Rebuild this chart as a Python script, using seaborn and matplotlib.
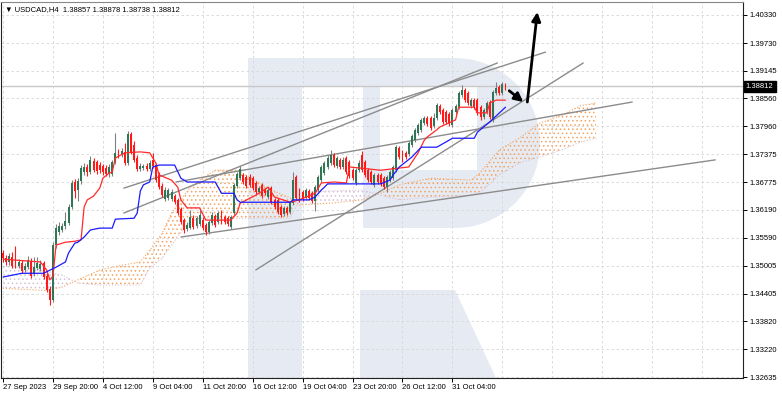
import numpy as np
import pandas as pd
import matplotlib
matplotlib.use("Agg")
import matplotlib.pyplot as plt
import matplotlib.transforms as mtransforms
import seaborn as sns
from matplotlib.patches import Rectangle, Polygon

sns.set_theme(style="white")
plt.rcParams['font.family'] = ['Liberation Sans', 'DejaVu Sans']
plt.rcParams['hatch.linewidth'] = 0.6

# ---------------- data (USDCAD H4) ----------------
opens = [1.3527, 1.3516, 1.3508, 1.3518, 1.3529, 1.3499, 1.3506, 1.3491, 1.3497, 1.3510,
         1.3482, 1.3495, 1.3493, 1.3506, 1.3478, 1.3450, 1.3427, 1.3544, 1.3572, 1.3576,
         1.3584, 1.3591, 1.3625, 1.3678, 1.3661, 1.3680, 1.3699, 1.3710, 1.3699, 1.3723,
         1.3720, 1.3714, 1.3712, 1.3708, 1.3695, 1.3695, 1.3720, 1.3742, 1.3735, 1.3742,
         1.3718, 1.3780, 1.3757, 1.3729, 1.3705, 1.3708, 1.3712, 1.3705, 1.3725, 1.3714,
         1.3693, 1.3669, 1.3642, 1.3644, 1.3642, 1.3648, 1.3640, 1.3620, 1.3597, 1.3578,
         1.3580, 1.3601, 1.3584, 1.3589, 1.3597, 1.3587, 1.3572, 1.3591, 1.3606, 1.3593,
         1.3612, 1.3603, 1.3601, 1.3582, 1.3612, 1.3669, 1.3686, 1.3693, 1.3688, 1.3688,
         1.3686, 1.3676, 1.3657, 1.3672, 1.3661, 1.3646, 1.3665, 1.3640, 1.3640, 1.3625,
         1.3610, 1.3623, 1.3614, 1.3633, 1.3688, 1.3661, 1.3657, 1.3644, 1.3659, 1.3654,
         1.3637, 1.3661, 1.3682, 1.3697, 1.3710, 1.3718, 1.3735, 1.3712, 1.3725, 1.3710,
         1.3729, 1.3720, 1.3703, 1.3676, 1.3703, 1.3735, 1.3720, 1.3703, 1.3699, 1.3672,
         1.3693, 1.3693, 1.3686, 1.3667, 1.3682, 1.3686, 1.3703, 1.3750, 1.3742, 1.3740,
         1.3737, 1.3757, 1.3767, 1.3782, 1.3789, 1.3803, 1.3814, 1.3814, 1.3797, 1.3814,
         1.3840, 1.3831, 1.3827, 1.3823, 1.3799, 1.3827, 1.3837, 1.3863, 1.3874, 1.3867,
         1.3840, 1.3852, 1.3852, 1.3837, 1.3816, 1.3827, 1.3848, 1.3810, 1.3867, 1.3880,
         1.3867, 1.38857]
closes = [1.3516, 1.3508, 1.3521, 1.3499, 1.3499, 1.3508, 1.3489, 1.3499, 1.3512, 1.3478,
          1.3497, 1.3506, 1.3504, 1.3476, 1.3448, 1.3427, 1.3544, 1.3580, 1.3584, 1.3584,
          1.3595, 1.3625, 1.3676, 1.3659, 1.3680, 1.3708, 1.3710, 1.3699, 1.3725, 1.3703,
          1.3701, 1.3703, 1.3699, 1.3695, 1.3710, 1.3720, 1.3740, 1.3733, 1.3744, 1.3718,
          1.3780, 1.3742, 1.3725, 1.3705, 1.3712, 1.3712, 1.3705, 1.3718, 1.3712, 1.3682,
          1.3667, 1.3650, 1.3661, 1.3661, 1.3657, 1.3635, 1.3612, 1.3593, 1.3576, 1.3587,
          1.3603, 1.3582, 1.3601, 1.3608, 1.3580, 1.3572, 1.3593, 1.3608, 1.3587, 1.3612,
          1.3593, 1.3593, 1.3589, 1.3603, 1.3672, 1.3695, 1.3705, 1.3678, 1.3669, 1.3672,
          1.3665, 1.3657, 1.3665, 1.3648, 1.3654, 1.3661, 1.3635, 1.3625, 1.3614, 1.3608,
          1.3623, 1.3612, 1.3633, 1.3682, 1.3644, 1.3640, 1.3642, 1.3661, 1.3644, 1.3637,
          1.3667, 1.3688, 1.3710, 1.3718, 1.3729, 1.3735, 1.3714, 1.3729, 1.3710, 1.3725,
          1.3699, 1.3691, 1.3686, 1.3703, 1.3718, 1.3703, 1.3693, 1.3682, 1.3678, 1.3693,
          1.3678, 1.3674, 1.3667, 1.3688, 1.3699, 1.3710, 1.3752, 1.3731, 1.3725, 1.3731,
          1.3761, 1.3776, 1.3789, 1.3799, 1.3810, 1.3814, 1.3801, 1.3793, 1.3814, 1.3842,
          1.3827, 1.3806, 1.3806, 1.3801, 1.3831, 1.3840, 1.3867, 1.3874, 1.3852, 1.3846,
          1.3852, 1.3837, 1.3825, 1.3816, 1.3831, 1.3846, 1.3816, 1.3869, 1.3878, 1.3867,
          1.3886, 1.38812]
highs = [1.3533, 1.3523, 1.3527, 1.3529, 1.3542, 1.3514, 1.3512, 1.3506, 1.3521, 1.3516,
         1.3518, 1.3518, 1.3512, 1.3510, 1.3484, 1.3457, 1.3550, 1.3589, 1.3593, 1.3591,
         1.3614, 1.3631, 1.3682, 1.3684, 1.3686, 1.3714, 1.3718, 1.3716, 1.3733, 1.3729,
         1.3725, 1.3720, 1.3716, 1.3714, 1.3716, 1.3725, 1.3782, 1.3748, 1.3750, 1.3761,
         1.3786, 1.3784, 1.3765, 1.3735, 1.3718, 1.3716, 1.3718, 1.3725, 1.3740, 1.3718,
         1.3699, 1.3676, 1.3667, 1.3665, 1.3663, 1.3652, 1.3644, 1.3625, 1.3601, 1.3593,
         1.3618, 1.3608, 1.3606, 1.3618, 1.3603, 1.3591, 1.3597, 1.3614, 1.3610, 1.3616,
         1.3618, 1.3608, 1.3606, 1.3608, 1.3676, 1.3699, 1.3712, 1.3697, 1.3693, 1.3695,
         1.3691, 1.3680, 1.3669, 1.3676, 1.3665, 1.3665, 1.3669, 1.3644, 1.3644, 1.3629,
         1.3627, 1.3627, 1.3637, 1.3699, 1.3693, 1.3665, 1.3661, 1.3665, 1.3663, 1.3659,
         1.3672, 1.3693, 1.3714, 1.3723, 1.3735, 1.3746, 1.3740, 1.3733, 1.3729, 1.3731,
         1.3733, 1.3725, 1.3708, 1.3708, 1.3725, 1.3744, 1.3725, 1.3708, 1.3703, 1.3697,
         1.3697, 1.3697, 1.3691, 1.3693, 1.3703, 1.3714, 1.3757, 1.3754, 1.3746, 1.3744,
         1.3765, 1.3780, 1.3793, 1.3803, 1.3814, 1.3818, 1.3818, 1.3818, 1.3825, 1.3846,
         1.3844, 1.3835, 1.3831, 1.3827, 1.3835, 1.3844, 1.3872, 1.3884, 1.3878, 1.3872,
         1.3857, 1.3857, 1.3857, 1.3842, 1.3835, 1.3850, 1.3852, 1.3874, 1.3891, 1.3884,
         1.3891, 1.38878]
lows = [1.3508, 1.3501, 1.3501, 1.3495, 1.3495, 1.3495, 1.3484, 1.3486, 1.3493, 1.3474,
        1.3478, 1.3491, 1.3489, 1.3472, 1.3444, 1.3416, 1.3423, 1.3538, 1.3565, 1.3572,
        1.3578, 1.3587, 1.3620, 1.3644, 1.3637, 1.3674, 1.3693, 1.3691, 1.3695, 1.3699,
        1.3695, 1.3697, 1.3693, 1.3691, 1.3688, 1.3691, 1.3716, 1.3729, 1.3731, 1.3714,
        1.3714, 1.3737, 1.3720, 1.3701, 1.3701, 1.3703, 1.3701, 1.3701, 1.3708, 1.3678,
        1.3663, 1.3646, 1.3637, 1.3640, 1.3637, 1.3631, 1.3608, 1.3589, 1.3569, 1.3574,
        1.3578, 1.3578, 1.3580, 1.3584, 1.3576, 1.3565, 1.3567, 1.3587, 1.3582, 1.3589,
        1.3589, 1.3589, 1.3584, 1.3578, 1.3608, 1.3665, 1.3682, 1.3674, 1.3665, 1.3667,
        1.3661, 1.3652, 1.3652, 1.3644, 1.3650, 1.3642, 1.3631, 1.3620, 1.3610, 1.3603,
        1.3606, 1.3608, 1.3610, 1.3629, 1.3640, 1.3635, 1.3637, 1.3640, 1.3640, 1.3633,
        1.3616, 1.3657, 1.3678, 1.3693, 1.3705, 1.3714, 1.3710, 1.3708, 1.3705, 1.3705,
        1.3695, 1.3686, 1.3682, 1.3672, 1.3699, 1.3699, 1.3688, 1.3678, 1.3674, 1.3667,
        1.3674, 1.3669, 1.3663, 1.3657, 1.3678, 1.3682, 1.3699, 1.3727, 1.3720, 1.3727,
        1.3733, 1.3752, 1.3763, 1.3778, 1.3784, 1.3799, 1.3797, 1.3789, 1.3793, 1.3810,
        1.3823, 1.3801, 1.3801, 1.3797, 1.3795, 1.3823, 1.3833, 1.3859, 1.3848, 1.3842,
        1.3835, 1.3833, 1.3820, 1.3810, 1.3812, 1.3823, 1.3812, 1.3806, 1.3863, 1.3863,
        1.3863, 1.38738]

# Ichimoku Tenkan-sen (red) read at bar indices
tenkan_bars = [0, 12, 14, 15, 16, 17, 19, 20, 23, 25, 26, 27, 29, 31, 32, 34, 35, 36, 39, 44,
               47, 49, 50, 54, 56, 57, 59, 63, 65, 73, 75, 76, 81, 85, 87, 92, 95, 100, 102, 106,
               110, 111, 121, 130, 133, 135, 136, 139, 140, 145, 146, 151, 152, 155, 156, 158, 161]
tenkan_vals = [1.3514, 1.3508, 1.3491, 1.3470, 1.3478, 1.3544, 1.3548, 1.3550, 1.3552, 1.3555,
               1.3625, 1.3640, 1.3648, 1.3665, 1.3686, 1.3697, 1.3699, 1.3729, 1.3740, 1.3742,
               1.3740, 1.3718, 1.3693, 1.3682, 1.3667, 1.3640, 1.3623, 1.3623, 1.3597, 1.3597,
               1.3612, 1.3633, 1.3650, 1.3667, 1.3646, 1.3635, 1.3640, 1.3654, 1.3676, 1.3678,
               1.3676, 1.3710, 1.3703, 1.3710, 1.3740, 1.3767, 1.3774, 1.3789, 1.3795, 1.3810,
               1.3837, 1.3837, 1.3825, 1.3825, 1.3846, 1.3852, 1.3852]
# Kijun-sen (blue)
kijun_bars = [0, 6, 13, 17, 20, 21, 23, 24, 26, 28, 31, 35, 36, 42, 43, 44, 45, 47, 48, 50,
              55, 57, 59, 68, 70, 74, 75, 76, 92, 93, 98, 100, 102, 103, 104, 121, 124, 125, 127,
              131, 134, 139, 144, 151, 152, 156, 161]
kijun_vals = [1.3476, 1.3484, 1.3484, 1.3497, 1.3508, 1.3527, 1.3548, 1.3550, 1.3561, 1.3576,
              1.3580, 1.3580, 1.3599, 1.3601, 1.3612, 1.3659, 1.3672, 1.3678, 1.3710, 1.3714,
              1.3714, 1.3686, 1.3678, 1.3678, 1.3654, 1.3654, 1.3640, 1.3635, 1.3635, 1.3640,
              1.3640, 1.3646, 1.3661, 1.3667, 1.3674, 1.3674, 1.3682, 1.3693, 1.3710, 1.3731,
              1.3752, 1.3752, 1.3771, 1.3771, 1.3784, 1.3806, 1.3837]
# Cloud: Senkou span A / B
cloud_bars = [0, 6, 12, 15, 19, 24, 31, 38, 44, 47, 51, 54, 57, 60, 63, 68, 75, 79, 86, 92,
              95, 99, 105, 115, 121, 127, 137, 150, 153, 159, 166, 172, 179, 185, 190]
span_a = [1.3452, 1.3450, 1.3448, 1.3448, 1.3455, 1.3470, 1.3491, 1.3501, 1.3508, 1.3533,
          1.3569, 1.3612, 1.3640, 1.3667, 1.3682, 1.3703, 1.3703, 1.3688, 1.3661, 1.3644,
          1.3629, 1.3631, 1.3633, 1.3640, 1.3654, 1.3672, 1.3686, 1.3682, 1.3699, 1.3746,
          1.3774, 1.3803, 1.3820, 1.3840, 1.3846]
span_b = [1.3499, 1.3497, 1.3491, 1.3486, 1.3480, 1.3463, 1.3459, 1.3459, 1.3459, 1.3495,
          1.3516, 1.3544, 1.3572, 1.3593, 1.3601, 1.3601, 1.3601, 1.3601, 1.3601, 1.3601,
          1.3640, 1.3657, 1.3659, 1.3661, 1.3650, 1.3640, 1.3646, 1.3650, 1.3657, 1.3693,
          1.3720, 1.3731, 1.3746, 1.3763, 1.3771]

# Trend lines: (bar0, price0, bar1, price1)
trend_lines = [(38.7, 1.3665, 173.8, 1.3954),
               (38.7, 1.3612, 158.4, 1.3931),
               (55.4, 1.3678, 201.6, 1.3848),
               (57.0, 1.3561, 228.2, 1.3725),
               (81.0, 1.3491, 185.9, 1.3931)]
# Forecast arrows: (bar0, price0, bar1, price1)
arrows = [(162.2, 1.3872, 166.7, 1.3848),
          (168.0, 1.3848, 171.2, 1.40394)]

price_ticks = [1.40330, 1.39730, 1.39145, 1.38560, 1.37960, 1.37375, 1.36775,
               1.36190, 1.35590, 1.35005, 1.34405, 1.33820, 1.33220, 1.32635]
time_label_bars = [0, 16, 32, 48, 64, 80, 96, 112, 128, 144]
time_labels = ["27 Sep 2023", "29 Sep 20:00", "4 Oct 12:00", "9 Oct 04:00", "11 Oct 20:00",
               "16 Oct 12:00", "19 Oct 04:00", "23 Oct 20:00", "26 Oct 12:00", "31 Oct 04:00"]
grid_extra_bars = [160, 176, 192, 208, 224]
symbol = "USDCAD,H4"
last_price = 1.38812

# ---------------- figure ----------------
W, H = 782, 396
FS = 5.5
fig = plt.figure(figsize=(W / 100, H / 100), dpi=100)
fig.patch.set_facecolor("white")

# watermark layer (pixel coordinates)
wm = fig.add_axes([0, 0, 1, 1], zorder=0)
wm.set_xlim(0, W)
wm.set_ylim(H, 0)
wm.axis("off")
wcol = "#e6ebf3"
wm.add_patch(Rectangle((248, 58), 54, 320, color=wcol, lw=0))
theta = np.linspace(np.pi / 2, -np.pi / 2, 40)
arc = [(455 + 85 * np.cos(t), 143 - 85 * np.sin(t)) for t in theta]
bowl = [(302, 58), (455, 58)] + arc + [(455, 228), (302, 228)]
wm.add_patch(Polygon(bowl, closed=True, color=wcol, lw=0))
wm.add_patch(Rectangle((380, 86), 97, 84, color="white", lw=0))
wm.add_patch(Rectangle((302, 86), 61, 142, color="white", lw=0))
wm.add_patch(Polygon([(360, 290), (455, 290), (496, 378), (360, 378)], closed=True, color=wcol, lw=0))

ax = fig.add_axes([1 / W, (H - 378) / H, 742 / W, 376 / H], zorder=1)
ax.patch.set_alpha(0)

n = min(len(opens), len(closes), len(highs), len(lows))
idx = np.arange(n)
o = np.array(opens[:n]); c = np.array(closes[:n])
h = np.array(highs[:n]); l = np.array(lows[:n])
bull = c >= o
body_col = np.where(bull, "#2f7656", "#ff1a1a")
wick_col = np.where(bull, "#808080", "#ff1a1a")

# cloud
cb = np.array(cloud_bars, dtype=float)
sa = np.array(span_a); sb = np.array(span_b)
ax.fill_between(cb, sa, sb, where=sa >= sb, interpolate=True, facecolor="none",
                edgecolor="#f4a460", hatch="....", linewidth=0, zorder=2)
ax.fill_between(cb, sa, sb, where=sa < sb, interpolate=True, facecolor="none",
                edgecolor="#d8bfd8", hatch="....", linewidth=0, zorder=2)
sns.lineplot(x=cloud_bars, y=span_a, ax=ax, color="#f4a460", lw=0.8, linestyle=":", zorder=2)
sns.lineplot(x=cloud_bars, y=span_b, ax=ax, color="#d8bfd8", lw=0.8, linestyle=":", zorder=2)

# current price line
ax.axhline(last_price, color="#c8c8c8", lw=1.0, zorder=1.5)

# trend lines
for b0, p0, b1, p1 in trend_lines:
    ax.plot([b0, b1], [p0, p1], color="#8c8c8c", lw=1.0, zorder=3)

# candles
ax.vlines(idx, l, h, colors=wick_col, lw=0.8, zorder=4)
ax.bar(idx, c - o, bottom=o, width=0.62, color=body_col, linewidth=0, zorder=5)

# Ichimoku lines
sns.lineplot(x=tenkan_bars, y=tenkan_vals, ax=ax, color="#ff2a2a", lw=0.9, zorder=6)
sns.lineplot(x=kijun_bars, y=kijun_vals, ax=ax, color="#1a1aff", lw=0.9, zorder=6)

# arrows
for b0, p0, b1, p1 in arrows:
    ax.annotate("", xy=(b1, p1), xytext=(b0, p0),
                arrowprops=dict(arrowstyle="-|>", color="black", lw=2.0,
                                mutation_scale=13, shrinkA=0, shrinkB=0), zorder=7)

# axes
ax.set_xlim(-0.64, 237.1)
ax.set_ylim(1.32614, 1.40606)
ax.yaxis.tick_right()
ax.set_yticks(price_ticks)
ax.set_yticklabels([f"{p:.5f}" for p in price_ticks])
ax.set_xticks(time_label_bars)
ax.set_xticklabels(time_labels)
ax.set_xticks(grid_extra_bars, minor=True)
shift = mtransforms.ScaledTranslation(2.5 / 100, 0, fig.dpi_scale_trans)
for lab in ax.get_xticklabels():
    lab.set_ha("left")
    lab.set_transform(lab.get_transform() + shift)
ax.tick_params(axis="both", which="major", labelsize=FS, colors="black", length=3, width=0.7,
               direction="out", pad=1.5)
ax.tick_params(axis="x", which="minor", length=0)
ax.tick_params(axis="y", right=True, left=False, pad=2)
ax.tick_params(axis="x", bottom=True)
ax.grid(True, which="both", color="#d6d6d6", lw=0.6, linestyle=(0, (3, 3)))
ax.set_xlabel(""); ax.set_ylabel("")
for side in ["left", "right", "bottom"]:
    ax.spines[side].set_color("#222222")
    ax.spines[side].set_linewidth(0.8)
ax.spines["top"].set_color("#888888")
ax.spines["top"].set_linewidth(0.8)

# current price tag
ax.text(1.004, last_price, f"{last_price:.5f}", transform=ax.get_yaxis_transform(),
        ha="left", va="center", fontsize=FS, color="white",
        bbox=dict(boxstyle="square,pad=0.25", fc="black", ec="black"), zorder=10, clip_on=False)

# header
fig.text(5 / W, 1 - 10 / H, "\u25bc " + symbol + "  1.38857 1.38878 1.38738 1.38812",
         fontsize=FS, color="black", ha="left", va="center",
         family=['Liberation Sans', 'DejaVu Sans'])

fig.savefig("out.png", dpi=100)
